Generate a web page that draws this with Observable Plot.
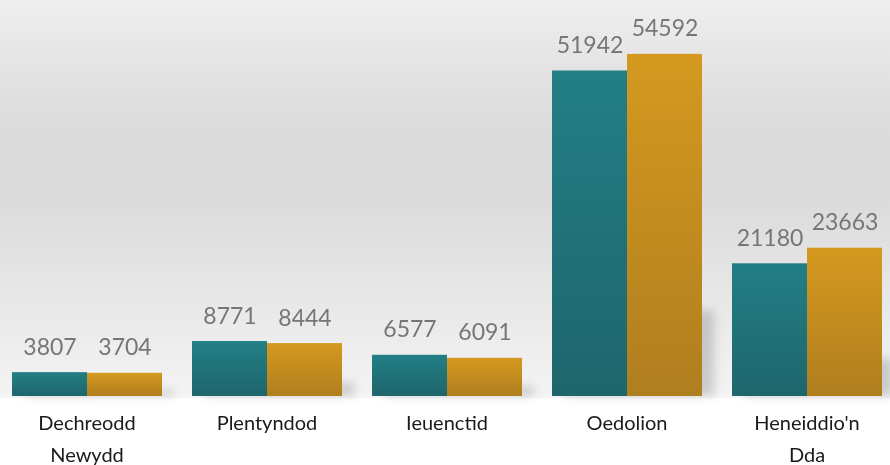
<!DOCTYPE html>
<html>
<head>
<meta charset="utf-8">
<script src="https://cdn.jsdelivr.net/npm/d3@7"></script>
<script src="https://cdn.jsdelivr.net/npm/@observablehq/plot@0.6"></script>
<style>
  html, body { margin: 0; padding: 0; background: #fff; }
  #chart { width: 890px; height: 465px; }
</style>
</head>
<body>
<div id="chart"></div>
<script>
const categories = ["Dechreodd Newydd", "Plentyndod", "Ieuenctid", "Oedolion", "Heneiddio'n Dda"];
const categoryLabels = ["Dechreodd\nNewydd", "Plentyndod", "Ieuenctid", "Oedolion", "Heneiddio'n\nDda"];
const seriesNames = ["Cyfres 1", "Cyfres 2"];
const series1 = [3807, 8771, 6577, 51942, 21180];
const series2 = [3704, 8444, 6091, 54592, 23663];
const seriesColors = ["url(#gradTeal)", "url(#gradGold)"];

const data = [];
categories.forEach((c, i) => {
  data.push({category: c, series: seriesNames[0], value: series1[i]});
  data.push({category: c, series: seriesNames[1], value: series2[i]});
});
const labels = categories.map((c, i) => ({category: c, label: categoryLabels[i]}));

const chart = Plot.plot({
  width: 890,
  height: 465,
  marginTop: 20,
  marginBottom: 69,
  marginLeft: 0,
  marginRight: 0,
  style: {
    background: "linear-gradient(to bottom, #eeeeee 0px, #dcdcdc 120px, #dadada 190px, #f3f3f3 394px, #f7f7f7 398px, #ffffff 399px)",
    fontFamily: "Lato, sans-serif"
  },
  fx: {domain: categories, paddingInner: 0.1625, paddingOuter: 0.045, align: 0.55, axis: null, label: null},
  x: {domain: seriesNames, padding: 0, axis: null},
  y: {domain: [0, 60000], axis: null},
  color: {domain: seriesNames, range: seriesColors},
  marks: [
    // soft floor shadow behind the bars
    Plot.barY(data, {fx: "category", x: "series", y: d => d.value * 0.25, fill: "#000", fillOpacity: 0.16, dx: 12}),
    Plot.barY(data, {fx: "category", x: "series", y: "value", fill: "series", inset: 0}),
    Plot.text(data, {fx: "category", x: "series", y: "value", text: d => String(d.value),
      dy: -18, lineAnchor: "bottom", fontSize: 23, fill: "#767676"}),
    Plot.text(labels, {fx: "category", text: "label", frameAnchor: "bottom", lineAnchor: "top",
      dy: 11, fontSize: 20, lineHeight: 1.58, fill: "#1a1a1a"})
  ]
});

const root = chart.tagName.toLowerCase() === "svg" ? chart : chart.querySelector("svg");
const svg = d3.select(root);
const defs = svg.insert("defs", ":first-child");
function grad(id, top, bottom) {
  const g = defs.append("linearGradient").attr("id", id).attr("x1", 0).attr("y1", 0).attr("x2", 0).attr("y2", 1);
  g.append("stop").attr("offset", "0%").attr("stop-color", top);
  g.append("stop").attr("offset", "100%").attr("stop-color", bottom);
}
grad("gradTeal", "#227f85", "#1d666c");
grad("gradGold", "#d5991f", "#af7e1f");
defs.append("filter").attr("id", "softShadow").attr("x", "-50%").attr("y", "-50%").attr("width", "200%").attr("height", "200%")
  .append("feGaussianBlur").attr("stdDeviation", 5);
const barGroups = root.querySelectorAll('g[aria-label="bar"]');
if (barGroups.length) barGroups[0].setAttribute("filter", "url(#softShadow)");

document.getElementById("chart").appendChild(chart);
</script>
</body>
</html>
